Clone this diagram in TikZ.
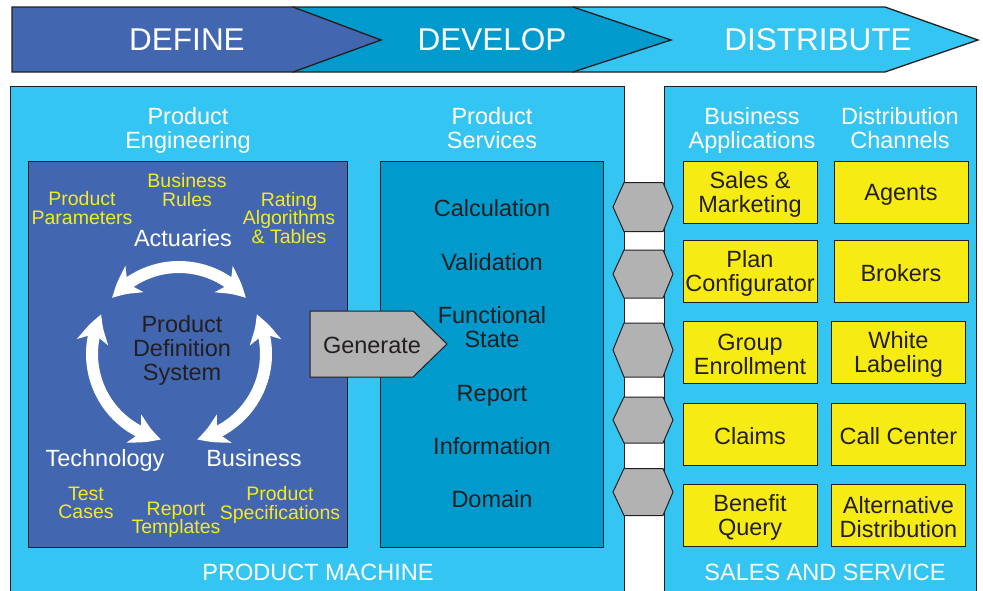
\documentclass[tikz,border=0pt]{standalone}
\usepackage{fontspec}
\setmainfont{Liberation Sans}
\usetikzlibrary{arrows.meta,bending}

\definecolor{defineblue}{RGB}{66,102,176}
\definecolor{developblue}{RGB}{0,154,205}
\definecolor{sky}{RGB}{52,197,242}
\definecolor{boxyellow}{RGB}{246,236,20}
\definecolor{noteyellow}{RGB}{244,236,30}
\definecolor{linkgray}{RGB}{178,178,178}
\definecolor{ink}{RGB}{35,31,32}

\newcommand{\fsz}[2]{\fontsize{#1}{#2}\selectfont}

\begin{document}
\begin{tikzpicture}[
  x=1pt, y=-1pt,
  outline/.style={draw=ink, line width=1pt},
  banner/.style={draw=ink, line width=1.3pt},
  title/.style={text=white, font=\fsz{31.5}{32}},
  head/.style={text=white, align=center, font=\fsz{23.5}{24}},
  item/.style={text=ink, align=center, font=\fsz{23.5}{24}},
  note/.style={text=noteyellow, align=center, font=\fsz{19.5}{18.5}},
  appbox/.style={outline, fill=boxyellow, minimum width=134pt, minimum height=62pt, inner sep=0pt},
  boxtext/.style={item, inner sep=0pt},
  cyclearrow/.style={white, line width=12pt,
    {Stealth[length=29pt,width=31pt,inset=8pt,bend]}-{Stealth[length=29pt,width=31pt,inset=8pt,bend]}}
]
\useasboundingbox (0,0) rectangle (983,590);

% phase banner
\draw[banner, fill=sky] (573,7) -- (885,7) -- (978,40) -- (885,72) -- (573,72) -- cycle;
\draw[banner, fill=developblue] (293,7) -- (573,7) -- (671,40) -- (573,72) -- (293,72) -- cycle;
\draw[banner, fill=defineblue] (12,7) -- (293,7) -- (381,40) -- (293,72) -- (12,72) -- cycle;
\node[title] (define) at (187,40) {DEFINE};
\node[title] (develop) at (492,40) {DEVELOP};
\node[title] (distribute) at (818,40) {DISTRIBUTE};

% panels
\draw[outline, fill=sky] (10,86) rectangle (624,600);
\draw[outline, fill=sky] (664,86) rectangle (976,600);
\draw[outline, fill=defineblue] (28,161) rectangle (347,547);
\draw[outline, fill=developblue] (380,161) rectangle (603,547);

\node[head] (engineering) at (188,130) {Product\\Engineering};
\node[head] (services) at (492,128) {Product\\Services};
\node[head] (bizapps) at (752,130) {Business\\Applications};
\node[head] (channels) at (900,128) {Distribution\\Channels};
\node[head] (machine) at (318,572) {PRODUCT MACHINE};
\node[head] (salesservice) at (825,572) {SALES AND SERVICE};

% product definition cycle
\coordinate (hub) at (179,354);
\draw[cyclearrow] (hub) ++(-40:87) arc[start angle=-40, end angle=-140, radius=87];
\draw[cyclearrow] (hub) ++(-153:87) arc[start angle=-153, end angle=-258, radius=87];
\draw[cyclearrow] (hub) ++(78:87) arc[start angle=78, end angle=-27, radius=87];

\node[item] (pds) at (182,350) {Product\\Definition\\System};
\node[head] (actuaries) at (183,238) {Actuaries};
\node[head] (technology) at (105,460) {Technology};
\node[head] (business) at (254,458) {Business};

\node[note] (params) at (82,208) {Product\\Parameters};
\node[note] (rules) at (187,190) {Business\\Rules};
\node[note] (rating) at (289,218) {Rating\\Algorithms\\\& Tables};
\node[note] (tests) at (86,503) {Test\\Cases};
\node[note] (templates) at (176,520) {Report\\Templates};
\node[note] (specs) at (280,505) {Product\\Specifications};

% generate arrow
\draw[outline, fill=linkgray] (310,311) -- (413,311) -- (447,344) -- (413,377) -- (310,377) -- cycle;
\node[item] (gen) at (372,345) {Generate};

\foreach \name/\y/\txt in {calc/208/Calculation, valid/262/Validation, state/327/{Functional\\State},
    report/395.5/Report, info/446/Information, domain/499/Domain}
  \node[item] (\name) at (492,\y) {\txt};

% links between the panels
\foreach \y/\h in {207/24.5, 274/24, 350/27, 420/23, 492/23.5}
  \draw[outline, fill=linkgray] (613,\y) -- (624,\y-\h) -- (663,\y-\h) -- (673,\y)
    -- (663,\y+\h) -- (624,\y+\h) -- cycle;

% applications and channels
\foreach \name/\x/\y/\txt in {sales/750/192/{Sales \&\\Marketing}, plan/750/271/{Plan\\Configurator},
    enroll/750/352/{Group\\Enrollment}, claims/750/434/Claims, query/750/515/{Benefit\\Query},
    agents/901/192/Agents, brokers/901/271/Brokers, labeling/898.5/352/{White\\Labeling},
    callcenter/898.5/434/Call Center, altdist/898.5/515/{Alternative\\Distribution}}
{
  \node[appbox] (\name) at (\x,\y) {};
  \node[boxtext] (\name-text) at ([yshift=-2.5pt]\name.center) {\txt};
}
\end{tikzpicture}
\end{document}
